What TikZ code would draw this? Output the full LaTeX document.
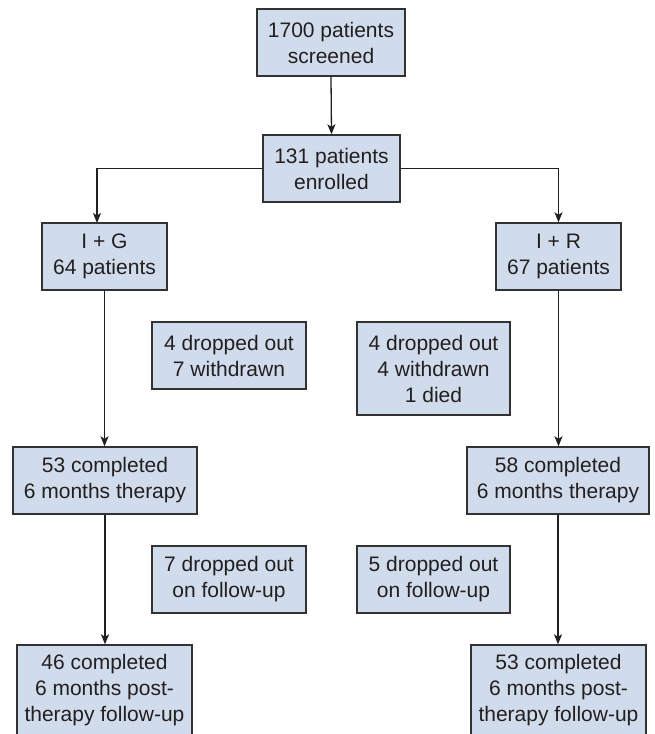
\documentclass[tikz,border=0pt]{standalone}
\usepackage{fontspec}
\setmainfont{Liberation Sans}
\usetikzlibrary{arrows.meta}
\definecolor{boxfill}{RGB}{208,220,236}
\definecolor{boxline}{RGB}{50,50,50}
\definecolor{txt}{RGB}{35,31,32}
\tikzset{
  box/.style={draw=boxline, fill=boxfill, line width=1.4pt, inner sep=0pt, align=center,
    text=txt, font=\fontsize{21}{26}\selectfont},
  conn/.style={draw=txt, line width=1.3pt},
  arr/.style={conn, -{Stealth[length=10pt,width=8pt,inset=2.5pt]}}
}
\begin{document}
\begin{tikzpicture}[x=1pt,y=-1pt]
\useasboundingbox (0,0) rectangle (655,734);
\clip (0,0) rectangle (655,734);
\node[box, minimum width=148pt, minimum height=67pt] (A) at (331,42.5) {1700 patients\\screened};
\node[box, minimum width=137pt, minimum height=67pt] (B) at (331.5,168.5) {131 patients\\enrolled};
\node[box, minimum width=125pt, minimum height=67pt] (IG) at (104.5,256.5) {I + G\\64 patients};
\node[box, minimum width=125pt, minimum height=67pt] (IR) at (558.5,256.5) {I + R\\67 patients};
\node[box, minimum width=154pt, minimum height=67pt] (DL1) at (229,355.5) {4 dropped out\\7 withdrawn};
\node[box, minimum width=153pt, minimum height=93pt] (DR1) at (433.5,368.5) {4 dropped out\\4 withdrawn\\1 died};
\node[box, minimum width=184pt, minimum height=67pt] (CL) at (105,480.5) {53 completed\\6 months therapy};
\node[box, minimum width=182pt, minimum height=67pt] (CR) at (558,480.5) {58 completed\\6 months therapy};
\node[box, minimum width=154pt, minimum height=67pt] (DL2) at (229,579.5) {7 dropped out\\on follow-up};
\node[box, minimum width=153pt, minimum height=67pt] (DR2) at (433.5,579.5) {5 dropped out\\on follow-up};
\node[box, minimum width=175pt, minimum height=91pt] (FL) at (104.5,690.5) {46 completed\\6 months post-\\therapy follow-up};
\node[box, minimum width=175pt, minimum height=91pt] (FR) at (558.5,690.5) {53 completed\\6 months post-\\therapy follow-up};
\coordinate (igin) at (97,223);
\draw[arr] (A.south) -- (B.north);
\draw[arr] (B.west) -| (igin);
\draw[arr] (B.east) -| (IR.north);
\draw[arr] (IG.south) -- (IG.south |- CL.north);
\draw[arr] (IR.south) -- (IR.south |- CR.north);
\draw[arr] (CL.south) -- (CL.south |- FL.north);
\draw[arr] (CR.south) -- (CR.south |- FR.north);
\end{tikzpicture}
\end{document}
